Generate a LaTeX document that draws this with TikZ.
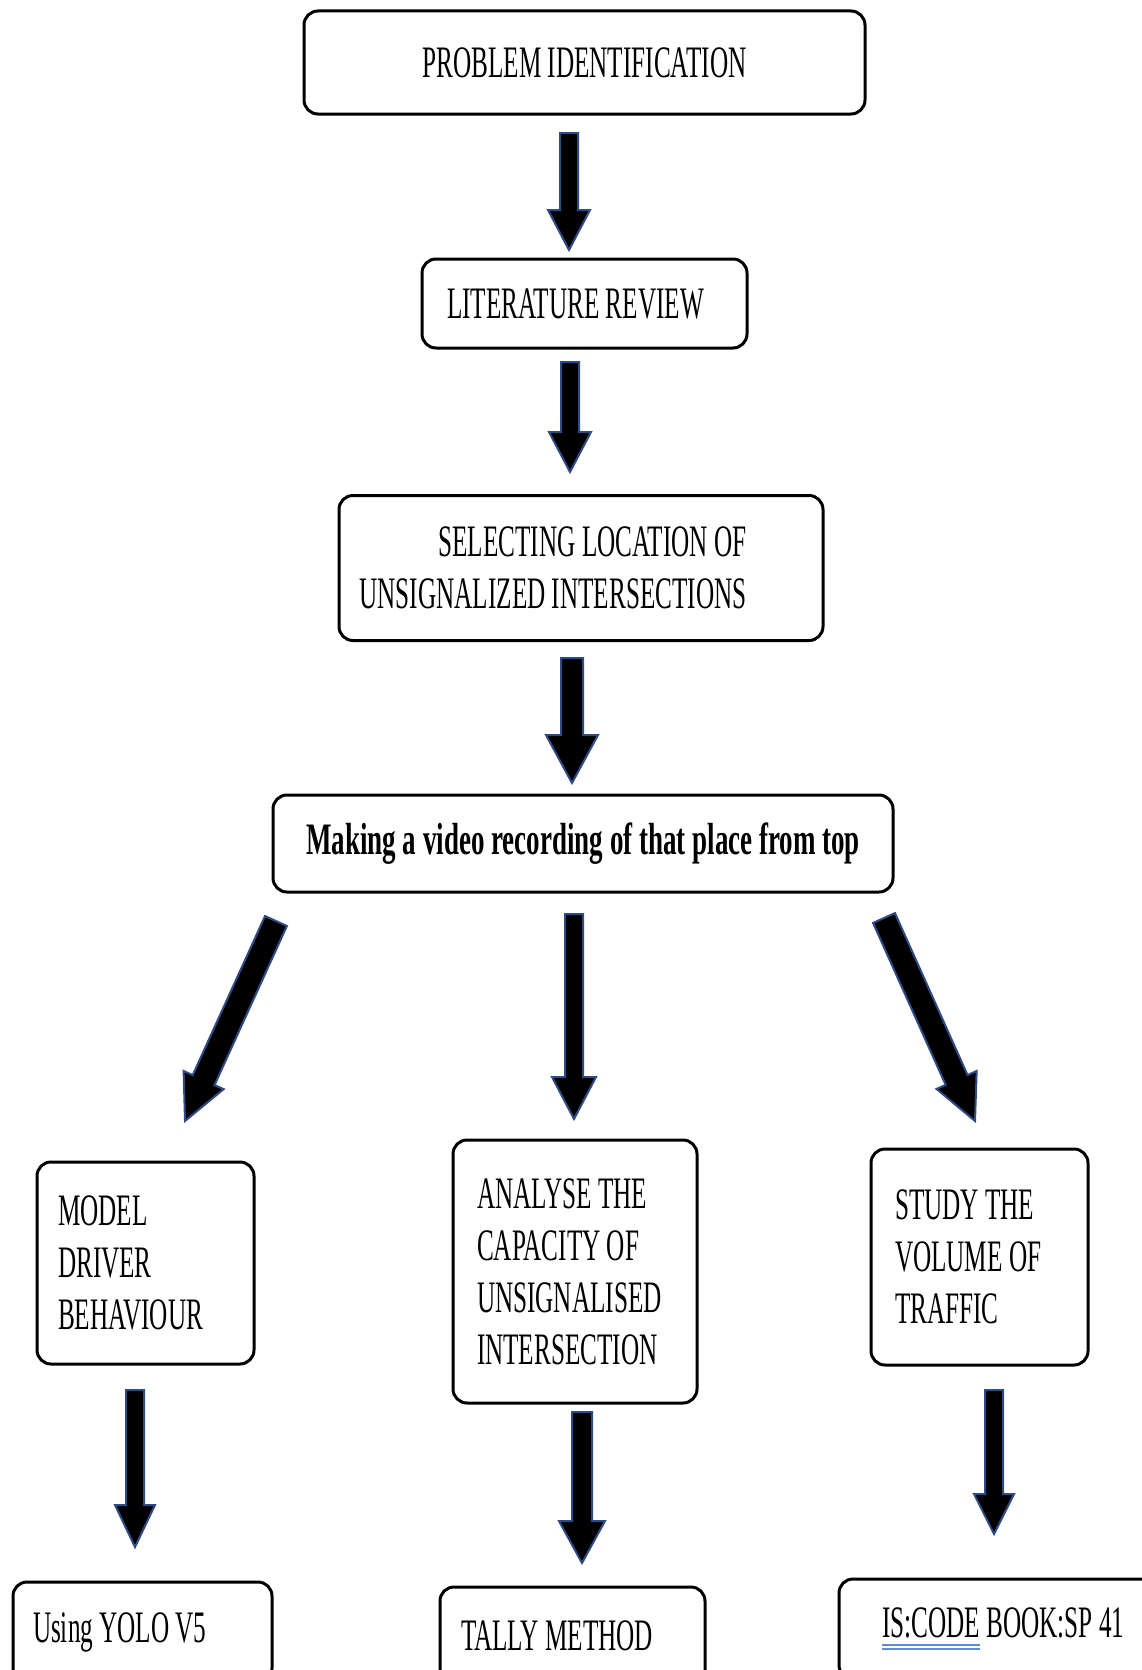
\documentclass[tikz,border=0pt]{standalone}
\usepackage{fontspec}
\setmainfont{Liberation Serif}[FakeStretch=0.56]
\newfontfamily\boldcond{Liberation Serif}[FakeStretch=0.6]
\usetikzlibrary{calc}
\definecolor{arrowblue}{HTML}{2F4B85}
\definecolor{spellblue}{HTML}{5B8BDB}
\tikzset{
  box/.style={draw, line width=3pt, rounded corners=14pt, inner sep=0pt,
    font=\fontsize{45}{52}\selectfont},
  blk/.style={fill=black, draw=arrowblue, line width=2pt}
}
\newcommand\blockarrow[5]{%
  \coordinate (hb) at ($(#2)!#5!(#1)$);
  \filldraw[blk] ($(#1)!#3!90:(#2)$) -- ($(hb)!#3!90:(#2)$) -- ($(hb)!#4!90:(#2)$)
    -- (#2) -- ($(hb)!#4!-90:(#2)$) -- ($(hb)!#3!-90:(#2)$) -- ($(#1)!#3!-90:(#2)$) -- cycle;}
\newcommand\spellline[1]{\setbox0\hbox{#1}\rlap{\color{spellblue}\rule[-9pt]{\wd0}{2pt}\hspace{-\wd0}\rule[-13pt]{\wd0}{2pt}}\box0\relax}

\begin{document}
\begin{tikzpicture}[x=1pt,y=-1pt]
\useasboundingbox (0,0) rectangle (1142,1670);
\clip (0,0) rectangle (1142,1670);

\node[box, minimum width=561pt, minimum height=103pt] (pid) at (584.5,62.5) {PROBLEM IDENTIFICATION};
\node[box, minimum width=325pt, minimum height=89pt] (lit) at (584.5,303.5) {LITERATURE REVIEW\hspace*{18pt}};
\node[box, minimum width=484pt, minimum height=145pt, align=right] (loc) at (581,568)
  {SELECTING LOCATION OF\hspace*{56pt}\\UNSIGNALIZED INTERSECTIONS\hspace*{56pt}};
\node[box, minimum width=620pt, minimum height=97pt, font=\boldcond\bfseries\fontsize{45}{52}\selectfont] (rec) at (583,843.5)
  {Making a video recording of that place from top};

\node[box, minimum width=217pt, minimum height=202pt, text width=175pt, align=flush left] (drv) at (145.5,1263)
  {MODEL\\DRIVER\\BEHAVIOUR};
\node[box, minimum width=244pt, minimum height=263pt, text width=196pt, align=flush left] (cap) at (575,1271.5)
  {ANALYSE THE\\CAPACITY OF\\UNSIGNALISED\\INTERSECTION};
\node[box, minimum width=217pt, minimum height=216pt, text width=169pt, align=flush left] (vol) at (979.5,1257)
  {STUDY THE\\VOLUME OF\\TRAFFIC};

\node[box, minimum width=259pt, minimum height=100pt, text width=219pt, align=flush left] (yolo) at (142.5,1632) {Using YOLO V5};
\node[box, minimum width=265pt, minimum height=98pt, text width=223pt, align=flush left] (tally) at (572.5,1636) {TALLY METHOD};
\node[box, minimum width=320pt, minimum height=100pt, text width=234pt, align=flush left] (code) at (999,1629)
  {\mbox{\spellline{IS:CODE} BOOK:SP 41}};

\coordinate (a1s) at (569,133);  \coordinate (a1e) at (569,250);
\coordinate (a2s) at (570,362);  \coordinate (a2e) at (570,472);
\coordinate (a3s) at (572,658);  \coordinate (a3e) at (572,783);
\coordinate (a4s) at (276,921);  \coordinate (a4e) at (185,1121);
\coordinate (a5s) at (574,914);  \coordinate (a5e) at (574,1119);
\coordinate (a6s) at (884,918);  \coordinate (a6e) at (975,1121);
\coordinate (a7s) at (135,1390); \coordinate (a7e) at (135,1547);
\coordinate (a8s) at (582,1412); \coordinate (a8e) at (582,1563);
\coordinate (a9s) at (994,1390); \coordinate (a9e) at (994,1534);

\blockarrow{a1s}{a1e}{9pt}{21pt}{40pt}
\blockarrow{a2s}{a2e}{9pt}{21pt}{40pt}
\blockarrow{a3s}{a3e}{11pt}{26pt}{48pt}
\blockarrow{a4s}{a4e}{12pt}{22pt}{45pt}
\blockarrow{a5s}{a5e}{9pt}{22pt}{42pt}
\blockarrow{a6s}{a6e}{12pt}{22pt}{45pt}
\blockarrow{a7s}{a7e}{9pt}{20pt}{42pt}
\blockarrow{a8s}{a8e}{10pt}{23pt}{42pt}
\blockarrow{a9s}{a9e}{9pt}{20pt}{40pt}
\end{tikzpicture}
\end{document}
